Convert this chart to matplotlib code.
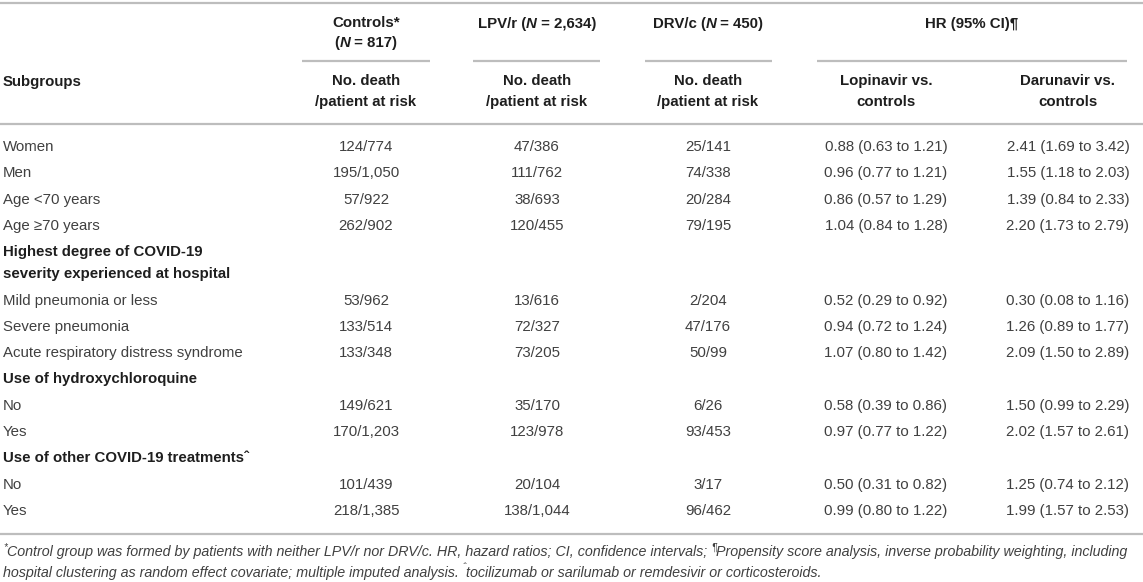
import matplotlib
matplotlib.use('Agg')
import matplotlib.pyplot as plt

# table content
subgroups = [
    'Women', 'Men', 'Age <70 years', 'Age \u226570 years',
    'Highest degree of COVID-19\nseverity experienced at hospital',
    'Mild pneumonia or less', 'Severe pneumonia',
    'Acute respiratory distress syndrome',
    'Use of hydroxychloroquine', 'No', 'Yes',
    'Use of other COVID-19 treatments\u02c6', 'No', 'Yes',
]
is_group = [False, False, False, False, True, False, False, False,
            True, False, False, True, False, False]
controls = ['124/774', '195/1,050', '57/922', '262/902', None,
            '53/962', '133/514', '133/348', None,
            '149/621', '170/1,203', None, '101/439', '218/1,385']
lpv = ['47/386', '111/762', '38/693', '120/455', None,
       '13/616', '72/327', '73/205', None,
       '35/170', '123/978', None, '20/104', '138/1,044']
drv = ['25/141', '74/338', '20/284', '79/195', None,
       '2/204', '47/176', '50/99', None,
       '6/26', '93/453', None, '3/17', '96/462']
hr_lopinavir = ['0.88 (0.63 to 1.21)', '0.96 (0.77 to 1.21)',
                '0.86 (0.57 to 1.29)', '1.04 (0.84 to 1.28)', None,
                '0.52 (0.29 to 0.92)', '0.94 (0.72 to 1.24)',
                '1.07 (0.80 to 1.42)', None,
                '0.58 (0.39 to 0.86)', '0.97 (0.77 to 1.22)', None,
                '0.50 (0.31 to 0.82)', '0.99 (0.80 to 1.22)']
hr_darunavir = ['2.41 (1.69 to 3.42)', '1.55 (1.18 to 2.03)',
                '1.39 (0.84 to 2.33)', '2.20 (1.73 to 2.79)', None,
                '0.30 (0.08 to 1.16)', '1.26 (0.89 to 1.77)',
                '2.09 (1.50 to 2.89)', None,
                '1.50 (0.99 to 2.29)', '2.02 (1.57 to 2.61)', None,
                '1.25 (0.74 to 2.12)', '1.99 (1.57 to 2.53)']
footnote_1 = [
    ('*', 'sup'),
    ('Control group was formed by patients with neither LPV/r nor DRV/c. '
     'HR, hazard ratios; CI, confidence intervals; ', None),
    ('\u00b6', 'sup'),
    ('Propensity score analysis, inverse probability weighting, including',
     None),
]
footnote_2 = [
    ('hospital clustering as random effect covariate; multiple imputed '
     'analysis. ', None),
    ('\u02c6', 'sup'),
    ('tocilizumab or sarilumab or remdesivir or corticosteroids.', None),
]

W, H = 1143, 582
FONT = 'Liberation Sans'
BODY = '#404040'
HEAD = '#1e1e1e'
RULE = '#bdbdbd'
SIZE = 10.8

fig = plt.figure(figsize=(W / 100, H / 100), dpi=100)
ax = fig.add_axes([0, 0, 1, 1])
ax.set_xlim(0, W)
ax.set_ylim(H, 0)
ax.axis('off')
renderer = fig.canvas.get_renderer()


def rule(x0, x1, y):
    ax.plot([x0, x1], [y, y], color=RULE, lw=1.6, solid_capstyle='butt')


def runs(x, y, parts, ha='center', size=SIZE, color=HEAD, weight='bold',
         italic=False):
    """Draw one line made of pieces: plain, italic ('it') or superscript."""
    texts = []
    for s, kind in parts:
        fs = size * 0.7 if kind == 'sup' else size
        style = 'italic' if (italic or kind == 'it') else 'normal'
        t = ax.text(0, y, s, family=FONT, fontsize=fs, color=color,
                    weight=weight, style=style, va='center')
        texts.append((t, kind))
    widths = [t.get_window_extent(renderer).width for t, _ in texts]
    total = sum(widths)
    start = x - total / 2 if ha == 'center' else x
    for (t, kind), w in zip(texts, widths):
        t.set_x(start)
        if kind == 'sup':
            t.set_y(y - size * 0.45)
        start += w
    return texts, total


# column centres
col_x = [366, 537, 708, 886, 1068]

# rules
rule(0, W, 3)
rule(302, 430, 61)
rule(473, 600, 61)
rule(645, 772, 61)
rule(817, 1127, 61)
rule(0, W, 124)
rule(0, W, 534)

# header
runs(col_x[0], 23, [('Controls*', None)])
runs(col_x[0], 43, [('(', None), ('N', 'it'), (' = 817)', None)])
runs(col_x[1], 24, [('LPV/r (', None), ('N', 'it'), (' = 2,634)', None)])
runs(col_x[2], 24, [('DRV/c (', None), ('N', 'it'), (' = 450)', None)])
runs((817 + 1127) / 2, 24, [('HR (95% CI)\u00b6', None)])
ax.text(3, 82, 'Subgroups', family=FONT, fontsize=SIZE, weight='bold',
        color=HEAD, va='center')
for cx in col_x[:3]:
    ax.text(cx, 81, 'No. death', family=FONT, fontsize=SIZE, weight='bold',
            color=HEAD, ha='center', va='center')
    ax.text(cx, 102, '/patient at risk', family=FONT, fontsize=SIZE,
            weight='bold', color=HEAD, ha='center', va='center')
for cx, name in zip(col_x[3:], ['Lopinavir vs.', 'Darunavir vs.']):
    ax.text(cx, 81, name, family=FONT, fontsize=SIZE, weight='bold',
            color=HEAD, ha='center', va='center')
    ax.text(cx, 102, 'controls', family=FONT, fontsize=SIZE, weight='bold',
            color=HEAD, ha='center', va='center')

# body
y = 147
step = 26.3
for i, label in enumerate(subgroups):
    lines = label.split('\n')
    for k, line in enumerate(lines):
        ax.text(3, y + 22 * k, line, family=FONT, fontsize=SIZE,
                weight='bold' if is_group[i] else 'normal',
                color=HEAD if is_group[i] else BODY, va='center')
    for cx, col in zip(col_x, [controls, lpv, drv, hr_lopinavir, hr_darunavir]):
        if col[i] is not None:
            ax.text(cx, y, col[i], family=FONT, fontsize=SIZE, color=BODY,
                    ha='center', va='center')
    y += step + 22 * (len(lines) - 1)

# footnote, sized so the first line spans the table width
foot_size = 10.0
probe, width = runs(3, 552, footnote_1, ha='left', size=foot_size,
                    color=BODY, weight='normal', italic=True)
for t, _ in probe:
    t.remove()
foot_size *= (W - 8) / width
runs(3, 552, footnote_1, ha='left', size=foot_size, color=BODY,
     weight='normal', italic=True)
runs(3, 573, footnote_2, ha='left', size=foot_size, color=BODY,
     weight='normal', italic=True)

fig.savefig('out.png', dpi=100)
